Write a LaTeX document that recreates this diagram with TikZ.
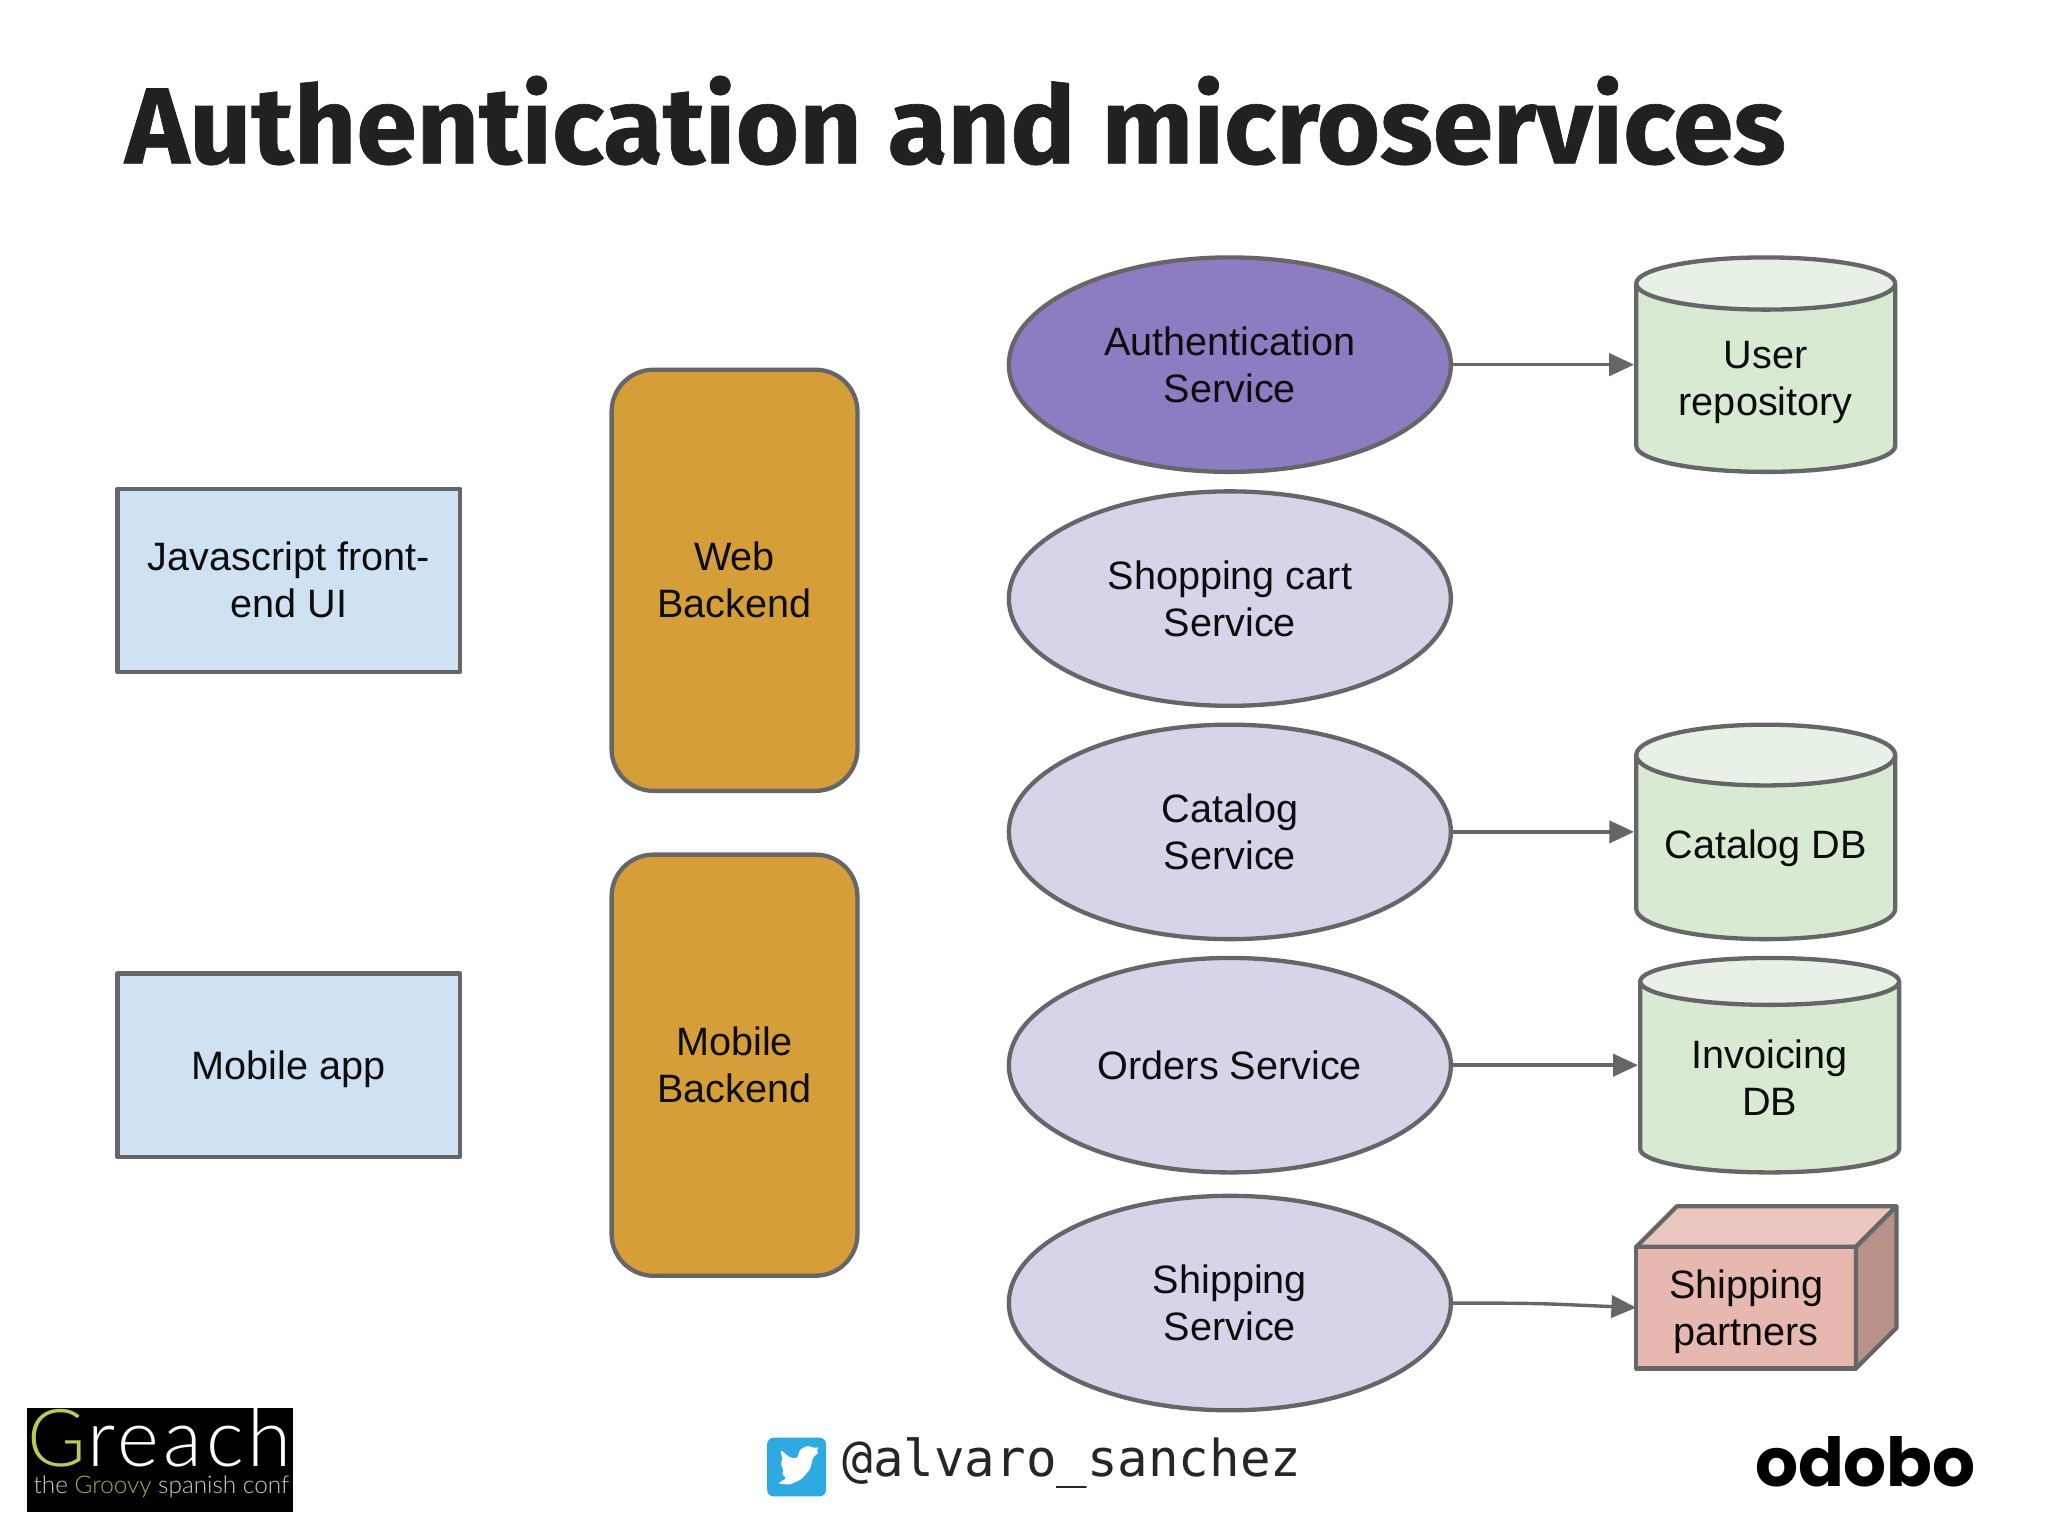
\documentclass[tikz,border=0pt]{standalone}
\usepackage{fontspec}
\usepackage{tikz}
\usetikzlibrary{arrows.meta,shapes.geometric}
\setmainfont{Liberation Sans}
\newfontfamily\titlefont{Fira Sans}[FakeStretch=1.008,BoldFeatures={FakeBold=0.6}]
\newfontfamily\handlefont{DejaVu Sans Mono}
\newfontfamily\odobofont{Poppins}
\newfontfamily\logofont{Lato Light}[LetterSpace=5]
\newfontfamily\logosubfont{Lato Light}
\definecolor{linegrey}{HTML}{666669}
\definecolor{clientblue}{HTML}{CFE2F3}
\definecolor{backendgold}{HTML}{D69E38}
\definecolor{authpurple}{HTML}{8E7CC3}
\definecolor{servicelilac}{HTML}{D9D3E9}
\definecolor{dbgreen}{HTML}{D9EAD3}
\definecolor{dbtop}{HTML}{E8F1E5}
\definecolor{boxfront}{HTML}{E6B8AF}
\definecolor{boxtop}{HTML}{EBC6BF}
\definecolor{boxside}{HTML}{B89289}
\definecolor{logogreen}{HTML}{B5CC5B}
\definecolor{logoolive}{HTML}{9AAC60}
\definecolor{twitterblue}{HTML}{2FA9E1}
\tikzset{
	label/.style={align=center,text=black!95,font=\fontsize{8.62}{10.24}\selectfont},
	outline/.style={draw=linegrey,line width=0.033cm,line join=round},
	client/.style={label,outline,fill=clientblue,minimum width=2.62cm,minimum height=1.4cm},
	backend/.style={label,outline,fill=backendgold,rounded corners=0.32cm,minimum width=1.88cm,minimum height=3.22cm},
	service/.style={label,ellipse,outline,fill=servicelilac,minimum width=3.38cm,minimum height=1.64cm,inner sep=0pt},
	database/.style={label,cylinder,shape border rotate=90,aspect=0.3,anchor=shape center,outline,cylinder uses custom fill,cylinder body fill=dbgreen,cylinder end fill=dbtop,minimum width=1.98cm,minimum height=1.64cm,inner sep=0pt},
	call/.style={draw=linegrey,line width=0.026cm,-{Triangle[length=0.19cm,width=0.17cm]}}
}
\begin{document}
\begin{tikzpicture}[x=0.01cm,y=-0.01cm]
	\useasboundingbox (0,0) rectangle (1567,1175);
	\fill[white] (0,0) rectangle (1567,1175);
	\node[anchor=base west,inner sep=0pt,text=black!87,font=\titlefont\bfseries\fontsize{23.5}{28}\selectfont] (title) at (95,125) {Authentication and microservices};
	% clients and backends
	\node[client] (jsui) at (221,444) {Javascript front-\\end UI};
	\node[client,text depth=0pt] (mobileapp) at (221,815) {Mobile app};
	\node[backend] (webbackend) at (562,444) {Web\\Backend};
	\node[backend] (mobilebackend) at (562,815) {Mobile\\Backend};
	% services
	\node[service,fill=authpurple] (authservice) at (941,279) {Authentication\\Service};
	\node[service] (cartservice) at (941,458) {Shopping cart\\Service};
	\node[service] (catalogservice) at (941,636.5) {Catalog\\Service};
	\node[service] (ordersservice) at (941,815) {Orders Service};
	\node[service] (shippingservice) at (941,997) {Shipping\\Service};
	% stores
	\node[database,text depth=0pt] (userrepo) at (1351,279) {User\\repository};
	\node[database] (catalogdb) at (1351,636.5) {Catalog DB};
	\node[database] (invoicingdb) at (1354,815) {Invoicing\\DB};
	% shipping partners box
	\node[label,outline,fill=boxfront,minimum width=1.68cm,minimum height=0.93cm,inner sep=0pt,outer sep=0pt,text depth=0pt] (partners) at (1336,1000.5) {Shipping\\partners};
	\draw[outline,fill=boxtop] (partners.north west) -- ++(31,-31) -- ++(168,0) -- (partners.north east) -- cycle;
	\draw[outline,fill=boxside] (partners.north east) -- ++(31,-31) -- ++(0,93) -- (partners.south east) -- cycle;
	% calls
	\draw[call] (authservice.east) -- (userrepo.shape center -| userrepo.west);
	\draw[call] (catalogservice.east) -- (catalogdb.shape center -| catalogdb.west);
	\draw[call] (ordersservice.east) -- (invoicingdb.shape center -| invoicingdb.west);
	\draw[call] (shippingservice.east) .. controls +(70,0) and +(-70,-3) .. (partners.west);
	% footer
	\fill[black] (21,1077) rectangle (224,1157);
	\begin{scope}
		\clip (21,1077) rectangle (224,1157);
		\node[anchor=base west,inner sep=0pt,text=logogreen,font=\logofont\fontsize{17.4}{20}\selectfont] (logog) at (20,1122) {G};
		\node[anchor=base west,inner sep=0pt,text=white,font=\logofont\fontsize{17.4}{20}\selectfont] (logoreach) at (logog.base east) {reach};
		\node[anchor=base west,inner sep=0pt,text=white!80!black,font=\logosubfont\fontsize{5.3}{6}\selectfont] (logosub) at (25,1143) {the \textcolor{logoolive}{Groovy} spanish conf};
	\end{scope}
	\fill[twitterblue,rounded corners=0.05cm] (587,1100) rectangle (632,1145);
	\fill[white,rounded corners=0.02cm] (597,1109) -- (604,1115) -- (610,1116) -- (612,1109) -- (618,1106) -- (623,1108) -- (627,1107) -- (624,1111) -- (627,1111) -- (622,1115) -- (620,1124) -- (613,1132) -- (604,1136) -- (595,1135) -- (602,1131) -- (598,1128) -- (600,1126) -- (597,1119) -- (599,1118) -- cycle;
	\node[anchor=base west,inner sep=0pt,text=black!85,font=\handlefont\fontsize{11.05}{13}\selectfont] (handle) at (644,1130) {@alvaro\_sanchez};
	\node[anchor=base east,inner sep=0pt,text=black,font=\odobofont\bfseries\fontsize{14.7}{18}\selectfont] (odobo) at (1512.5,1137) {odobo};
\end{tikzpicture}
\end{document}
